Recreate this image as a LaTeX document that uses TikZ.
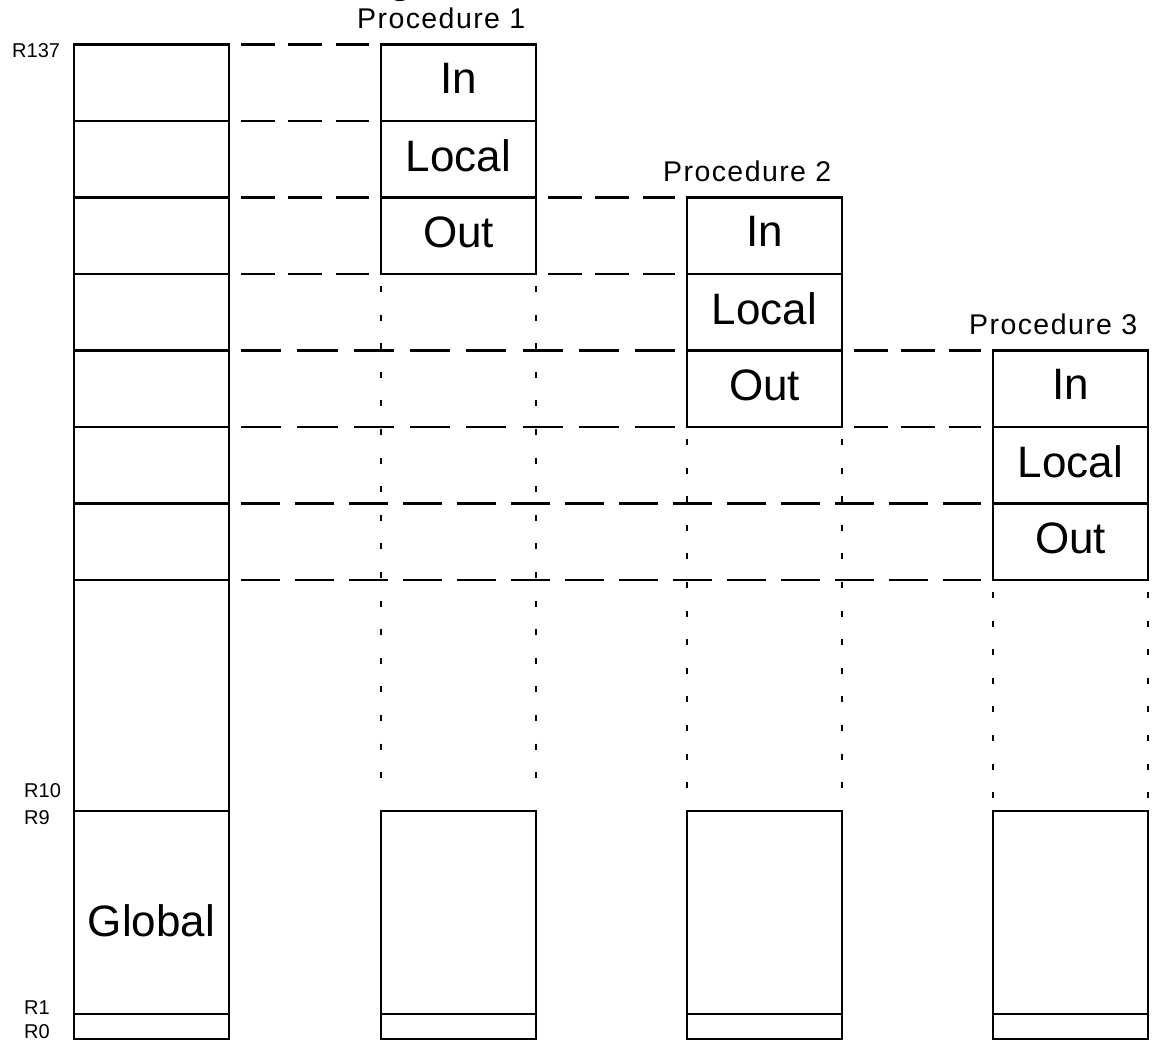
\documentclass[tikz,border=0pt]{standalone}
\usepackage{fontspec}
\setmainfont{Liberation Sans}
\newfontfamily\procfont[LetterSpace=5]{Liberation Sans}
\begin{document}
\begin{tikzpicture}[x=1pt,y=-1pt,
  box/.style={draw, line width=2.2pt, minimum width=155pt, minimum height=76.5pt,
    inner sep=0pt, outer sep=0pt, font=\fontsize{44}{48}\selectfont, text depth=8pt},
  tallbox/.style={box, minimum height=231pt},
  globbox/.style={box, minimum height=203pt},
  rzbox/.style={box, minimum height=25pt},
  dline/.style={line width=2.2pt, shorten <=12pt, shorten >=12pt},
  dashA/.style={dline, dash pattern=on 33.8pt off 13.5pt},
  dashB/.style={dline, dash pattern=on 40.2pt off 16.1pt},
  dashC/.style={dline, dash pattern=on 38.6pt off 15.4pt},
  tick/.style={line width=2.4pt, shorten <=12pt, shorten >=12pt, dash pattern=on 6pt off 22.6pt},
  proclabel/.style={anchor=base west, inner sep=0pt, font=\procfont\fontsize{28.5}{31}\selectfont},
  reglabel/.style={anchor=base west, inner sep=0pt, font=\fontsize{20}{22}\selectfont}]
\useasboundingbox (0,0) rectangle (1155,1041);

% partially visible title glyph at the top edge
\node[anchor=base, inner sep=0pt, font=\fontsize{44}{48}\selectfont] (title) at (401,-7) {g};

% left (physical register) column
\node[box] (L0) at (151.5,82.75) {};
\node[box] (L1) at (151.5,159.25) {};
\node[box] (L2) at (151.5,235.75) {};
\node[box] (L3) at (151.5,312.25) {};
\node[box] (L4) at (151.5,388.75) {};
\node[box] (L5) at (151.5,465.25) {};
\node[box] (L6) at (151.5,541.75) {};
\node[tallbox] (L7) at (151.5,695.5) {};
\node[globbox, text depth=0pt, text height=47.5pt] (LG) at (151.5,912.5) {Global};
\node[rzbox, text depth=0pt] (LR) at (151.5,1026.5) {};

% procedure 1
\node[box] (P1in) at (458.5,82.75) {In};
\node[box] (P1loc) at (458.5,159.25) {Local};
\node[box] (P1out) at (458.5,235.75) {Out};
\node[globbox] (P1g) at (458.5,912.5) {};
\node[rzbox, text depth=0pt] (P1r) at (458.5,1026.5) {};

% procedure 2
\node[box] (P2in) at (764.5,235.75) {In};
\node[box] (P2loc) at (764.5,312.25) {Local};
\node[box] (P2out) at (764.5,388.75) {Out};
\node[globbox] (P2g) at (764.5,912.5) {};
\node[rzbox, text depth=0pt] (P2r) at (764.5,1026.5) {};

% procedure 3
\node[box] (P3in) at (1070.5,388.75) {In};
\node[box] (P3loc) at (1070.5,465.25) {Local};
\node[box] (P3out) at (1070.5,541.75) {Out};
\node[globbox] (P3g) at (1070.5,912.5) {};
\node[rzbox, text depth=0pt] (P3r) at (1070.5,1026.5) {};

% procedure titles
\node[proclabel] (T1) at ([xshift=-24pt,yshift=16pt]P1in.north west) {Procedure 1};
\node[proclabel] (T2) at ([xshift=-24pt,yshift=16pt]P2in.north west) {Procedure 2};
\node[proclabel] (T3) at ([xshift=-24pt,yshift=16pt]P3in.north west) {Procedure 3};

% register numbers
\node[reglabel] (r137) at (12,58) {R137};
\node[reglabel] (r10) at (24,797) {R10};
\node[reglabel] (r9) at (24,824) {R9};
\node[reglabel] (r1) at (24,1014) {R1};
\node[reglabel] (r0) at (24,1038) {R0};

% dashed mapping lines
\draw[dashA] (L0.north east) -- (P1in.north west);
\draw[dashA] (L0.south east) -- (P1in.south west);
\draw[dashA] (L1.south east) -- (P1loc.south west);
\draw[dashA] (P1out.north east) -- (P2in.north west);
\draw[dashA] (L2.south east) -- (P1out.south west);
\draw[dashA] (P1out.south east) -- (P2in.south west);
\draw[dashB] (L3.south east) -- (P2loc.south west);
\draw[dashA] (P2out.north east) -- (P3in.north west);
\draw[dashB] (L4.south east) -- (P2out.south west);
\draw[dashA] (P2out.south east) -- (P3in.south west);
\draw[dashC] (L5.south east) -- (P3loc.south west);
\draw[dashC] (L6.south east) -- (P3out.south west);

% dotted continuation lines
\draw[tick] (P1out.south west) -- (P1g.north west);
\draw[tick] (P1out.south east) -- (P1g.north east);
\draw[tick] (P2out.south west) -- (P2g.north west);
\draw[tick] (P2out.south east) -- (P2g.north east);
\draw[tick] (P3out.south west) -- (P3g.north west);
\draw[tick] (P3out.south east) -- (P3g.north east);
\end{tikzpicture}
\end{document}
